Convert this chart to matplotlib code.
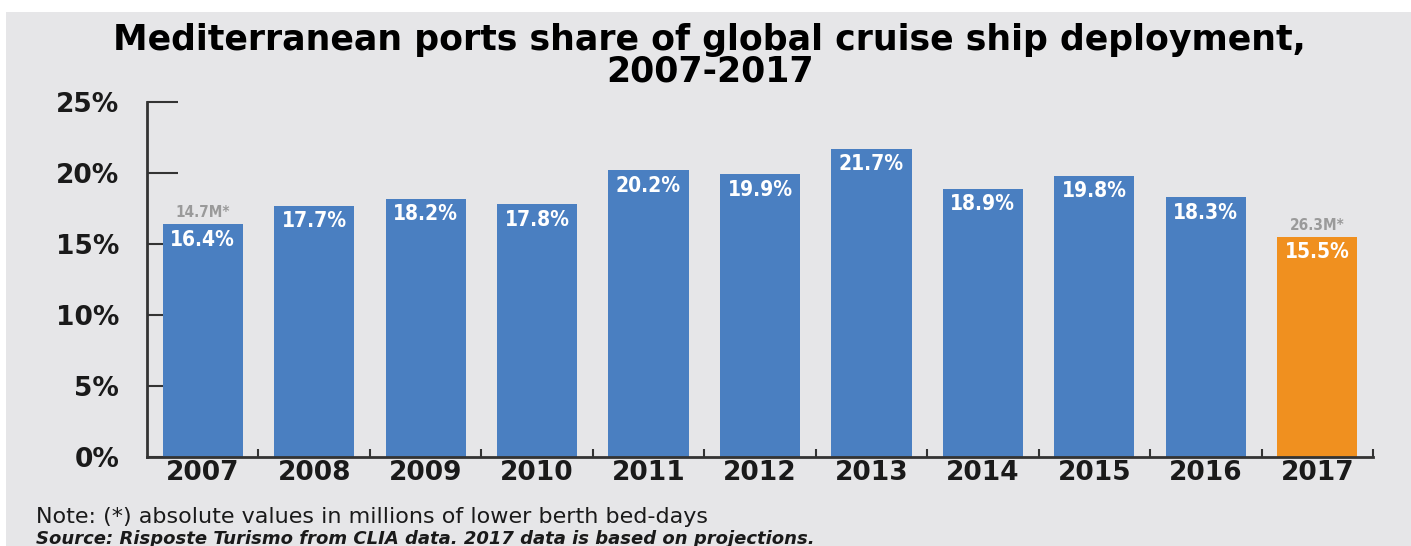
import matplotlib
matplotlib.use("Agg")
import matplotlib.pyplot as plt
from matplotlib.patches import Rectangle
from matplotlib.ticker import FixedLocator, FuncFormatter

years = ["2007", "2008", "2009", "2010", "2011", "2012", "2013", "2014", "2015", "2016", "2017"]
shares = [16.4, 17.7, 18.2, 17.8, 20.2, 19.9, 21.7, 18.9, 19.8, 18.3, 15.5]
abs_notes = {0: "14.7M*", 10: "26.3M*"}
yticks = [0, 5, 10, 15, 20, 25]

BG = "#e6e6e8"
BLUE = "#4a7fc1"
ORANGE = "#f0901f"
DARK = "#1a1a1a"

fig = plt.figure(figsize=(14.11, 5.46), dpi=100)
fig.patch.set_facecolor("white")
fig.patches.append(Rectangle((6 / 1411, 0), 1, 1 - 12 / 546, transform=fig.transFigure,
                             facecolor=BG, edgecolor="none", zorder=-10))

ax = fig.add_axes([147 / 1411, 1 - 457 / 546, (1373 - 147) / 1411, (457 - 102) / 546])
ax.set_facecolor("none")

colors = [BLUE] * (len(years) - 1) + [ORANGE]
x = list(range(len(years)))
bars = ax.bar(x, shares, width=0.72, color=colors, zorder=2)

ax.set_xlim(-0.5, len(years) - 0.5)
ax.set_ylim(0, 25)
ax.set_axisbelow(True)

for s in ["top", "right"]:
    ax.spines[s].set_visible(False)
for s in ["left", "bottom"]:
    ax.spines[s].set_color("#333333")
    ax.spines[s].set_linewidth(2)
    ax.spines[s].set_zorder(3)

ax.yaxis.set_major_locator(FixedLocator(yticks))
ax.yaxis.set_major_formatter(FuncFormatter(lambda v, p: f"{int(v)}%"))
ax.tick_params(axis="y", direction="in", length=22, width=1.5, color="#333333",
               pad=20, labelsize=19, labelcolor=DARK)
for lab in ax.get_yticklabels():
    lab.set_fontweight("bold")

ax.set_xticks(x)
ax.set_xticklabels(years, fontsize=19, fontweight="bold", color=DARK)
ax.tick_params(axis="x", which="major", length=0, pad=2)
ax.set_xticks([i + 0.5 for i in x], minor=True)
ax.tick_params(axis="x", which="minor", direction="in", length=6, width=1.5, color="#333333")

for i, v in enumerate(shares):
    ax.annotate(f"{v}%", (i, v), xytext=(0, -4), textcoords="offset points",
                ha="center", va="top", color="white", fontsize=15, fontweight="bold",
                fontstretch="condensed", zorder=4)
for i, t in abs_notes.items():
    ax.annotate(t, (i, shares[i]), xytext=(0, 3), textcoords="offset points",
                ha="center", va="bottom", color="#9a9a9a", fontsize=11, fontweight="bold",
                fontstretch="condensed", zorder=4)

fig.text(0.503, 1 - 81 / 546,
         "Mediterranean ports share of global cruise ship deployment,\n2007-2017",
         ha="center", va="baseline", multialignment="center", linespacing=0.9,
         fontsize=25, fontweight="bold", color="black")

fig.text(36 / 1411, 1 - 517 / 546, "Note: (*) absolute values in millions of lower berth bed-days",
         ha="left", va="center", fontsize=16, color=DARK)
fig.text(36 / 1411, 1 - 539 / 546,
         "Source: Risposte Turismo from CLIA data. 2017 data is based on projections.",
         ha="left", va="center", fontsize=13, style="italic", fontweight="bold", color=DARK)

fig.savefig("out.png", dpi=100, facecolor=fig.get_facecolor())
